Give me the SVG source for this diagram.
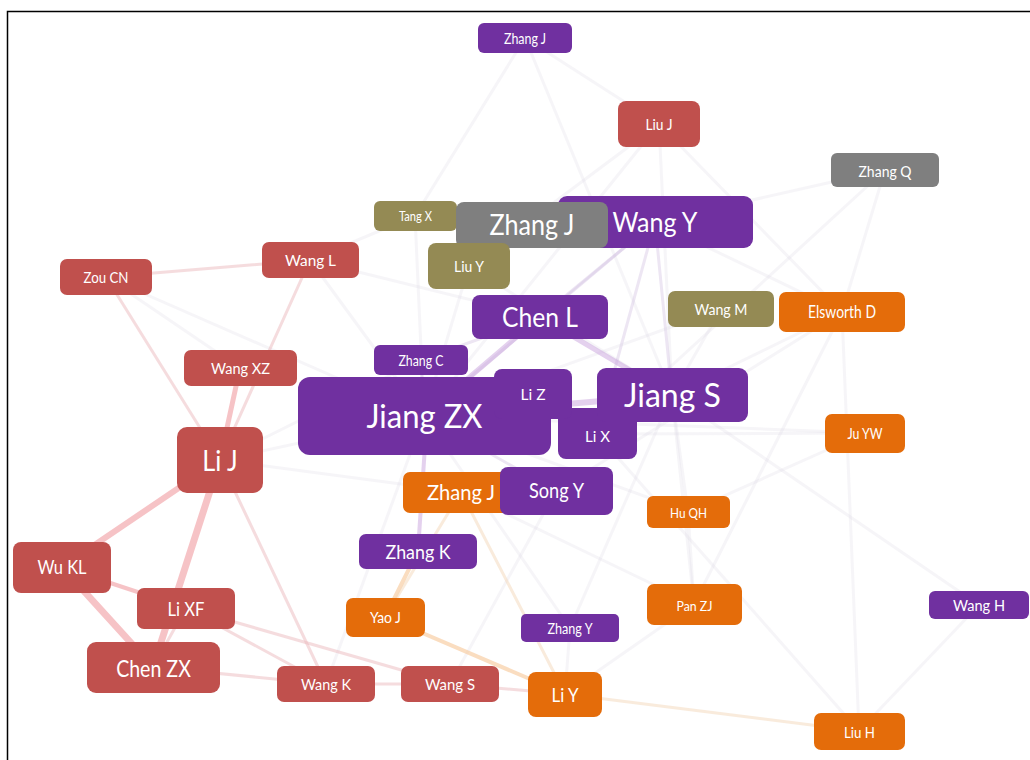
<svg xmlns="http://www.w3.org/2000/svg" width="1030" height="760" viewBox="0 0 1030 760">
<style>
.n text{font-family:Lato,"Open Sans","Liberation Sans",sans-serif;fill:#fff;text-anchor:middle}
.red{fill:#C0504D}.pur{fill:#7030A0}.ora{fill:#E46C0A}.oli{fill:#948A54}.gry{fill:#7F7F7F}
.e line{stroke-linecap:round}
.f{stroke:#DCD6E2;stroke-width:3;stroke-opacity:.25}
.r1{stroke:#F2A9AE;stroke-opacity:.7}
.r2{stroke:#EBB9BD;stroke-width:3;stroke-opacity:.5}
.p1{stroke:#C9A3DE;stroke-opacity:.5}
.p2{stroke:#D2C0E0;stroke-width:3;stroke-opacity:.4}
.o1{stroke:#F7C796;stroke-opacity:.6}
.o2{stroke:#F3D7BA;stroke-width:3;stroke-opacity:.5}
</style>
<rect width="1030" height="760" fill="#fff"/>
<path d="M7.5,760V11.5H1030" fill="none" stroke="#000" stroke-width="1.5"/>
<g id="connectors" class="e">
<line class="f" x1="525" y1="38" x2="659" y2="124"/>
<line class="f" x1="525" y1="38" x2="415" y2="216"/>
<line class="f" x1="525" y1="38" x2="672" y2="395"/>
<line class="f" x1="659" y1="124" x2="424" y2="416"/>
<line class="f" x1="659" y1="124" x2="672" y2="395"/>
<line class="f" x1="659" y1="124" x2="842" y2="312"/>
<line class="f" x1="659" y1="124" x2="469" y2="266"/>
<line class="f" x1="885" y1="170" x2="655" y2="222"/>
<line class="f" x1="885" y1="170" x2="842" y2="312"/>
<line class="f" x1="885" y1="170" x2="597" y2="434"/>
<line class="f" x1="415" y1="216" x2="310" y2="260"/>
<line class="f" x1="415" y1="216" x2="424" y2="416"/>
<line class="f" x1="469" y1="266" x2="424" y2="416"/>
<line class="f" x1="469" y1="266" x2="672" y2="395"/>
<line class="f" x1="310" y1="260" x2="540" y2="317"/>
<line class="f" x1="310" y1="260" x2="424" y2="416"/>
<line class="f" x1="106" y1="277" x2="424" y2="416"/>
<line class="f" x1="106" y1="277" x2="240" y2="368"/>
<line class="p2" x1="655" y1="222" x2="672" y2="395"/>
<line class="p2" x1="655" y1="222" x2="540" y2="317"/>
<line class="p2" x1="655" y1="222" x2="424" y2="416"/>
<line class="p2" x1="655" y1="222" x2="597" y2="434"/>
<line class="f" x1="655" y1="222" x2="842" y2="312"/>
<line class="f" x1="721" y1="309" x2="424" y2="416"/>
<line class="f" x1="721" y1="309" x2="672" y2="395"/>
<line class="f" x1="842" y1="312" x2="672" y2="395"/>
<line class="f" x1="842" y1="312" x2="694" y2="604"/>
<line class="f" x1="842" y1="312" x2="859" y2="731"/>
<line class="f" x1="842" y1="312" x2="556" y2="491"/>
<line class="f" x1="865" y1="433" x2="597" y2="434"/>
<line class="f" x1="865" y1="433" x2="424" y2="416"/>
<line class="f" x1="865" y1="433" x2="688" y2="512"/>
<line class="f" x1="979" y1="605" x2="672" y2="395"/>
<line class="f" x1="979" y1="605" x2="859" y2="731"/>
<line class="f" x1="859" y1="731" x2="597" y2="434"/>
<line class="f" x1="688" y1="512" x2="694" y2="604"/>
<line class="f" x1="688" y1="512" x2="424" y2="416"/>
<line class="f" x1="688" y1="512" x2="672" y2="395"/>
<line class="f" x1="694" y1="604" x2="672" y2="395"/>
<line class="f" x1="694" y1="604" x2="565" y2="694"/>
<line class="f" x1="694" y1="604" x2="461" y2="492"/>
<line class="f" x1="570" y1="628" x2="424" y2="416"/>
<line class="f" x1="570" y1="628" x2="672" y2="395"/>
<line class="f" x1="570" y1="628" x2="565" y2="694"/>
<line class="f" x1="421" y1="360" x2="220" y2="460"/>
<line class="f" x1="220" y1="460" x2="461" y2="492"/>
<line class="f" x1="220" y1="460" x2="424" y2="416"/>
<line class="f" x1="450" y1="684" x2="556" y2="491"/>
<line class="f" x1="326" y1="684" x2="424" y2="416"/>
<line class="p1" stroke-width="6" x1="424" y1="416" x2="672" y2="395"/>
<line class="p1" stroke-width="5" x1="424" y1="416" x2="540" y2="317"/>
<line class="p1" stroke-width="5" x1="540" y1="317" x2="672" y2="395"/>
<line class="p1" stroke-width="4" x1="427" y1="416" x2="418" y2="551"/>
<line class="p2" x1="424" y1="416" x2="556" y2="491"/>
<line class="p2" x1="421" y1="360" x2="424" y2="416"/>
<line class="p2" x1="540" y1="317" x2="421" y2="360"/>
<line class="o1" stroke-width="4" x1="418" y1="551" x2="385" y2="617"/>
<line class="o1" stroke-width="4" x1="385" y1="617" x2="565" y2="694"/>
<line class="o2" x1="565" y1="694" x2="859" y2="731"/>
<line class="o2" x1="461" y1="492" x2="385" y2="617"/>
<line class="o2" x1="565" y1="694" x2="461" y2="492"/>
<line class="r1" stroke-width="7" x1="220" y1="460" x2="153" y2="667"/>
<line class="r1" stroke-width="6" x1="220" y1="460" x2="62" y2="567"/>
<line class="r1" stroke-width="7" x1="62" y1="567" x2="153" y2="667"/>
<line class="r1" stroke-width="5" x1="240" y1="368" x2="220" y2="460"/>
<line class="r1" stroke-width="4" x1="62" y1="567" x2="186" y2="608"/>
<line class="r2" x1="186" y1="608" x2="153" y2="667"/>
<line class="r2" x1="186" y1="608" x2="326" y2="684"/>
<line class="r2" x1="186" y1="608" x2="450" y2="684"/>
<line class="r2" x1="153" y1="667" x2="326" y2="684"/>
<line class="r2" x1="326" y1="684" x2="450" y2="684"/>
<line class="r2" x1="220" y1="460" x2="326" y2="684"/>
<line class="r2" x1="106" y1="277" x2="310" y2="260"/>
<line class="r2" x1="106" y1="277" x2="220" y2="460"/>
<line class="r2" x1="310" y1="260" x2="220" y2="460"/>
<line class="r2" x1="450" y1="684" x2="565" y2="694"/>
</g>
<g id="n-zhangj-top" class="n"><rect class="pur" x="478" y="23" width="94" height="30" rx="6"/><text x="525" y="43.5" font-size="15" textLength="42" lengthAdjust="spacingAndGlyphs">Zhang J</text></g>
<g id="n-liuj" class="n"><rect class="red" x="618" y="101" width="82" height="46" rx="8"/><text x="659" y="130" font-size="16" textLength="27" lengthAdjust="spacingAndGlyphs">Liu J</text></g>
<g id="n-zhangq" class="n"><rect class="gry" x="831" y="153" width="108" height="34" rx="6"/><text x="885" y="177" font-size="16" textLength="53" lengthAdjust="spacingAndGlyphs">Zhang Q</text></g>
<g id="n-tangx" class="n"><rect class="oli" x="374" y="201" width="83" height="30" rx="6"/><text x="415.5" y="221" font-size="12.5" textLength="33" lengthAdjust="spacingAndGlyphs">Tang X</text></g>
<g id="n-wangy" class="n"><rect class="pur" x="558" y="196" width="195" height="52" rx="9"/><text x="655" y="232" font-size="26" textLength="85" lengthAdjust="spacingAndGlyphs">Wang Y</text></g>
<g id="n-zhangj-gray" class="n"><rect class="gry" x="456" y="202" width="152" height="46" rx="8"/><text x="532" y="235" font-size="28" textLength="85" lengthAdjust="spacingAndGlyphs">Zhang J</text></g>
<g id="n-liuy" class="n"><rect class="oli" x="428" y="243" width="82" height="46" rx="8"/><text x="469" y="272" font-size="15.5" textLength="30" lengthAdjust="spacingAndGlyphs">Liu Y</text></g>
<g id="n-wangl" class="n"><rect class="red" x="262" y="242" width="97" height="36" rx="7"/><text x="310.5" y="266" font-size="15.5" textLength="51" lengthAdjust="spacingAndGlyphs">Wang L</text></g>
<g id="n-zoucn" class="n"><rect class="red" x="60" y="259" width="92" height="36" rx="7"/><text x="106" y="283" font-size="15" textLength="45" lengthAdjust="spacingAndGlyphs">Zou CN</text></g>
<g id="n-chenl" class="n"><rect class="pur" x="472" y="295" width="136" height="44" rx="8"/><text x="540" y="327" font-size="26" textLength="76" lengthAdjust="spacingAndGlyphs">Chen L</text></g>
<g id="n-wangm" class="n"><rect class="oli" x="668" y="291" width="106" height="36" rx="7"/><text x="721" y="315" font-size="16" textLength="53" lengthAdjust="spacingAndGlyphs">Wang M</text></g>
<g id="n-elsworthd" class="n"><rect class="ora" x="779" y="292" width="126" height="40" rx="7"/><text x="842" y="318" font-size="17" textLength="68" lengthAdjust="spacingAndGlyphs">Elsworth D</text></g>
<g id="n-zhangc" class="n"><rect class="pur" x="374" y="345" width="94" height="30" rx="6"/><text x="421" y="366" font-size="15" textLength="45" lengthAdjust="spacingAndGlyphs">Zhang C</text></g>
<g id="n-wangxz" class="n"><rect class="red" x="184" y="350" width="113" height="36" rx="7"/><text x="240.5" y="374" font-size="15.5" textLength="59" lengthAdjust="spacingAndGlyphs">Wang XZ</text></g>
<g id="n-jiangzx" class="n"><rect class="pur" x="298" y="377" width="253" height="78" rx="12"/><text x="424.5" y="428" font-size="33" textLength="116" lengthAdjust="spacingAndGlyphs">Jiang ZX</text></g>
<g id="n-lix" class="n"><rect class="pur" x="558" y="408" width="79" height="51" rx="8"/><text x="597.5" y="441.5" font-size="16" textLength="25" lengthAdjust="spacingAndGlyphs">Li X</text></g>
<g id="n-liz" class="n"><rect class="pur" x="494" y="369" width="78" height="50" rx="8"/><text x="533" y="400" font-size="16" textLength="25" lengthAdjust="spacingAndGlyphs">Li Z</text></g>
<g id="n-jiangs" class="n"><rect class="pur" x="597" y="368" width="151" height="54" rx="9"/><text x="672.5" y="407" font-size="32" textLength="97" lengthAdjust="spacingAndGlyphs">Jiang S</text></g>
<g id="n-lij" class="n"><rect class="red" x="177" y="427" width="86" height="66" rx="10"/><text x="220" y="470.5" font-size="29" textLength="35.5" lengthAdjust="spacingAndGlyphs">Li J</text></g>
<g id="n-juyw" class="n"><rect class="ora" x="825" y="414" width="80" height="39" rx="7"/><text x="865" y="439" font-size="15" textLength="35" lengthAdjust="spacingAndGlyphs">Ju YW</text></g>
<g id="n-huqh" class="n"><rect class="ora" x="647" y="496" width="83" height="32" rx="6"/><text x="688.5" y="517.5" font-size="14" textLength="37" lengthAdjust="spacingAndGlyphs">Hu QH</text></g>
<g id="n-zhangj-orange" class="n"><rect class="ora" x="403" y="472" width="116" height="41" rx="7"/><text x="461" y="500" font-size="21" textLength="68" lengthAdjust="spacingAndGlyphs">Zhang J</text></g>
<g id="n-songy" class="n"><rect class="pur" x="500" y="467" width="113" height="48" rx="8"/><text x="556.5" y="498" font-size="21" textLength="55" lengthAdjust="spacingAndGlyphs">Song Y</text></g>
<g id="n-zhangk" class="n"><rect class="pur" x="359" y="534" width="118" height="35" rx="7"/><text x="418" y="559" font-size="20" textLength="65" lengthAdjust="spacingAndGlyphs">Zhang K</text></g>
<g id="n-wukl" class="n"><rect class="red" x="13" y="542" width="98" height="51" rx="8"/><text x="62" y="574" font-size="18.5" textLength="49" lengthAdjust="spacingAndGlyphs">Wu KL</text></g>
<g id="n-lixf" class="n"><rect class="red" x="137" y="588" width="98" height="41" rx="7"/><text x="186" y="615.5" font-size="18.5" textLength="37" lengthAdjust="spacingAndGlyphs">Li XF</text></g>
<g id="n-panzj" class="n"><rect class="ora" x="647" y="584" width="95" height="41" rx="7"/><text x="694.5" y="610.5" font-size="14" textLength="36" lengthAdjust="spacingAndGlyphs">Pan ZJ</text></g>
<g id="n-wangh" class="n"><rect class="pur" x="929" y="591" width="100" height="28" rx="6"/><text x="979" y="611" font-size="15.5" textLength="52" lengthAdjust="spacingAndGlyphs">Wang H</text></g>
<g id="n-yaoj" class="n"><rect class="ora" x="346" y="598" width="79" height="39" rx="7"/><text x="385.5" y="623" font-size="15" textLength="31" lengthAdjust="spacingAndGlyphs">Yao J</text></g>
<g id="n-zhangy" class="n"><rect class="pur" x="521" y="614" width="98" height="28" rx="5"/><text x="570" y="634" font-size="15" textLength="45" lengthAdjust="spacingAndGlyphs">Zhang Y</text></g>
<g id="n-chenzx" class="n"><rect class="red" x="87" y="642" width="133" height="51" rx="9"/><text x="153.5" y="676.5" font-size="23" textLength="74.7" lengthAdjust="spacingAndGlyphs">Chen ZX</text></g>
<g id="n-wangk" class="n"><rect class="red" x="277" y="666" width="98" height="36" rx="7"/><text x="326" y="690" font-size="16" textLength="50" lengthAdjust="spacingAndGlyphs">Wang K</text></g>
<g id="n-wangs" class="n"><rect class="red" x="401" y="666" width="98" height="36" rx="7"/><text x="450" y="690" font-size="16" textLength="50" lengthAdjust="spacingAndGlyphs">Wang S</text></g>
<g id="n-liy" class="n"><rect class="ora" x="528" y="672" width="74" height="45" rx="8"/><text x="565" y="701.5" font-size="20" textLength="27" lengthAdjust="spacingAndGlyphs">Li Y</text></g>
<g id="n-liuh" class="n"><rect class="ora" x="814" y="713" width="91" height="37" rx="7"/><text x="859.5" y="738" font-size="16" textLength="31" lengthAdjust="spacingAndGlyphs">Liu H</text></g>
</svg>
